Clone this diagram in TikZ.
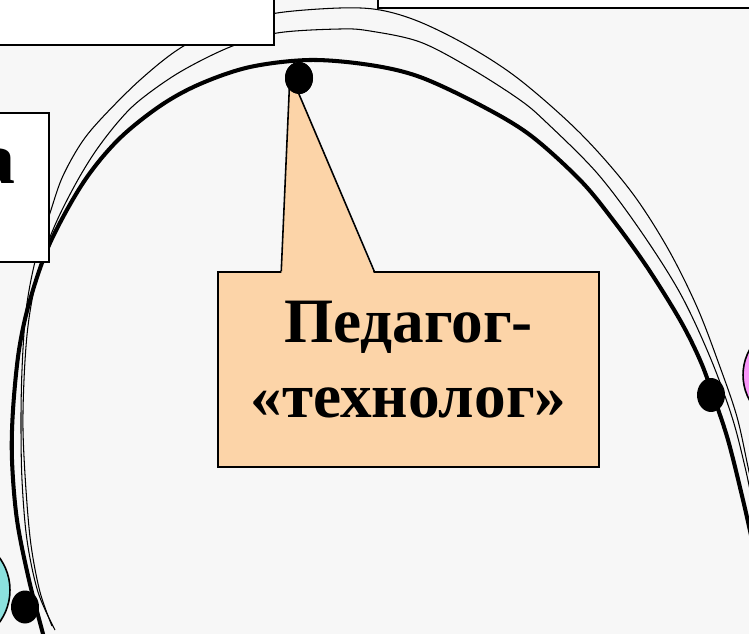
\documentclass[tikz,border=0pt]{standalone}
\usepackage{fontspec}
\setmainfont{Liberation Serif}
\usetikzlibrary{shapes.geometric,positioning}

\definecolor{peach}{RGB}{252,212,168}
\definecolor{pinkball}{RGB}{250,150,250}
\definecolor{tealball}{RGB}{140,225,222}
\definecolor{paper}{RGB}{247,247,247}

\tikzset{
  orbit/.style={line width=2.3pt},
  track/.style={line width=0.6pt},
  frame/.style={draw, line width=1.1pt, fill=white, inner sep=0pt},
  pin/.style={ellipse, fill=black, minimum width=0.56cm, minimum height=0.64cm, inner sep=0pt},
  ball/.style={circle, draw, line width=0.9pt, inner sep=0pt},
  callout/.style={draw, line width=0.9pt, fill=peach, minimum width=7.62cm,
    minimum height=3.9cm},
  bigword/.style={align=center, font=\bfseries\fontsize{36}{43}\selectfont}
}

\begin{document}
\begin{tikzpicture}[x=0.02cm, y=-0.02cm]
  \clip (0,0) rectangle (749,634);
  \fill[paper] (0,0) rectangle (749,634);

  % the orbits
  \draw[track] plot[smooth, tension=0.55] coordinates {(55,630) (38,592) (27,540) (22,480)
    (21,420) (22,370) (25,320) (30,285) (38,250) (50,213) (62,178) (80,145) (100,120)
    (140,80) (182,47) (230,25) (277,13) (340,8) (380,10) (420,22) (470,47) (520,80)
    (580,133) (630,190) (667,247) (697,307) (720,367) (737,417) (748,467) (756,505)};
  \draw[track] plot[smooth, tension=0.55] coordinates {(52,626) (40,592) (31,545) (26,490)
    (23,430) (24,380) (27,335) (32,300) (40,265) (55,225) (75,185) (95,152) (118,122)
    (140,100) (180,72) (230,47) (277,33) (340,29) (370,31) (420,42) (470,68) (520,100)
    (547,123) (597,173) (640,230) (680,293) (710,357) (732,417) (745,467) (753,505)};
  \draw[orbit] plot[smooth, tension=0.55] coordinates {(52,670) (43,634) (29,580) (17,520)
    (12,460) (13,410) (19,350) (30,300) (50,243) (83,183) (118,140) (160,106) (200,84)
    (250,67) (310,60) (370,65) (420,77) (480,105) (530,135) (580,180) (613,220)
    (647,267) (680,320) (700,360) (713,395) (728,440) (743,500) (752,540)};

  % frames cut by the edge
  \node[frame, minimum width=6.08cm, minimum height=1.5cm] (topleft) at (122,7.5) {};
  \node[frame, minimum width=8.04cm, minimum height=0.76cm] (topright) at (579,-11) {};
  \node[frame, minimum width=1.58cm, minimum height=2.98cm] (leftbox) at (9.5,187.5) {};
  \node[anchor=base east, inner sep=0pt, font=\bfseries\fontsize{42}{48}\selectfont]
    (leftword) at (16,184) {а};

  \node[ball, fill=pinkball, minimum size=2.08cm] (pink) at (795,375) {};
  \node[ball, fill=tealball, minimum size=2.2cm] (teal) at (-45,590) {};

  % callout
  \node[callout] (technolog) at (408.5,369.5) {};
  \node[bigword] (technologtext) at ([yshift=0.2cm]technolog.center) {Педагог-\\«технолог»};
  \node[pin] (topdot) at (299,78) {};
  \coordinate (apex) at ([xshift=-0.18cm, yshift=0.1cm]topdot.center);
  \fill[peach] ([xshift=1.28cm, yshift=-0.06cm]technolog.north west) -- (apex)
    -- ([xshift=3.14cm, yshift=-0.06cm]technolog.north west) -- cycle;
  \draw[line width=0.9pt] ([xshift=1.28cm]technolog.north west) -- (apex)
    -- ([xshift=3.14cm]technolog.north west);
  \node[pin] at (topdot) {};

  \node[pin, minimum height=0.68cm] (rightdot) at (711,395) {};
  \node[pin, minimum height=0.66cm] (leftdot) at (25,607) {};
\end{tikzpicture}
\end{document}
